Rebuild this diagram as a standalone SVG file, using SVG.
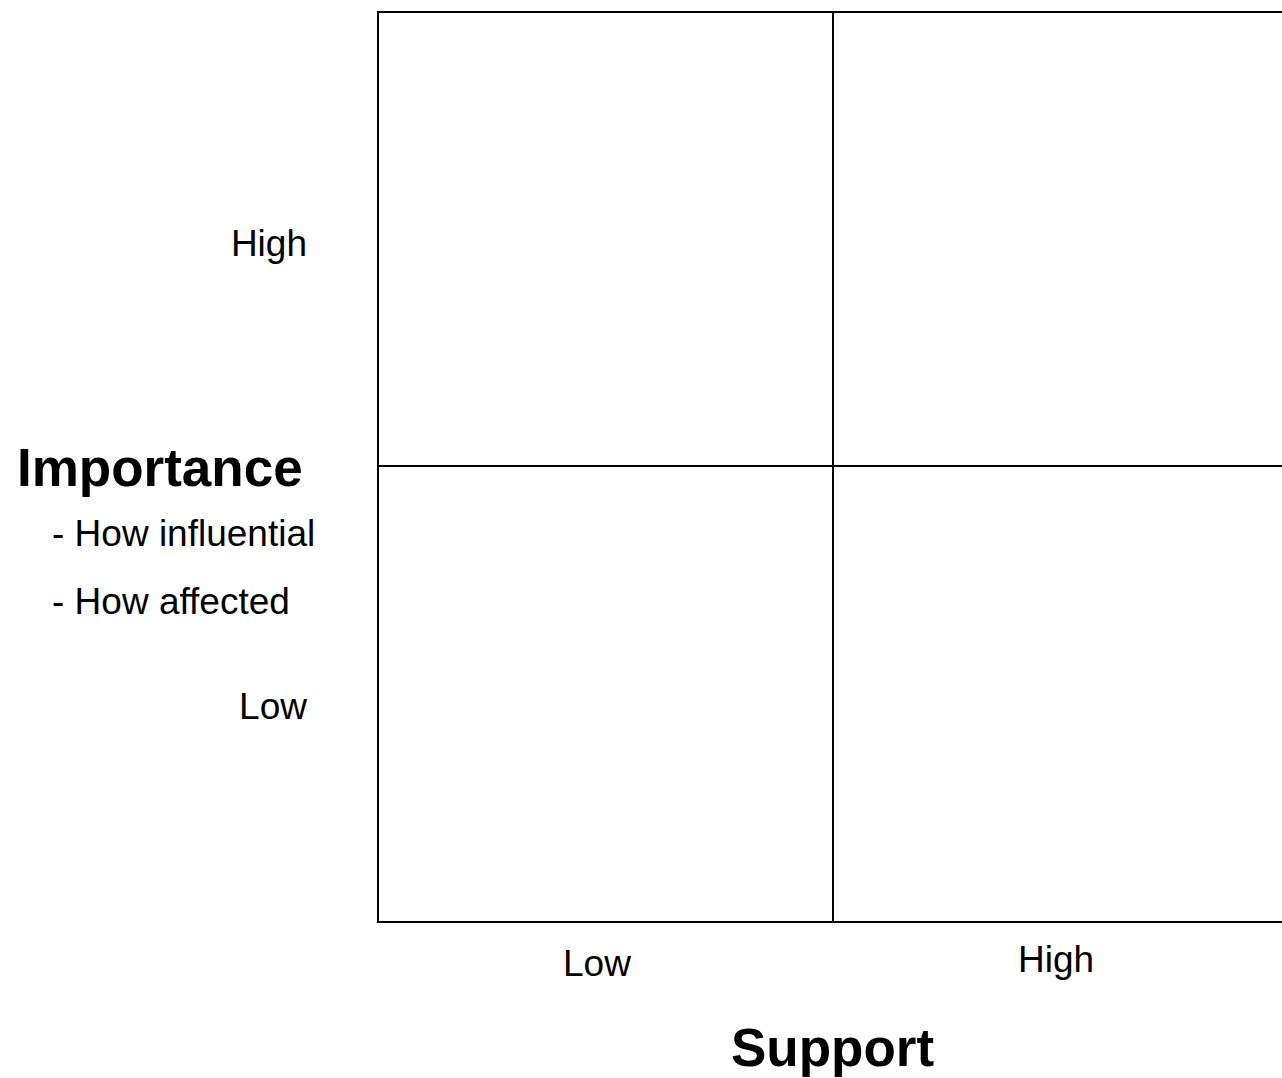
<svg xmlns="http://www.w3.org/2000/svg" width="1282" height="1078" viewBox="0 0 1282 1078">
<style>
.lbl{font-family:"Liberation Sans",Arial,sans-serif;font-size:37px;fill:#000}
.ttl{font-family:"Liberation Sans",Arial,sans-serif;font-size:53px;font-weight:bold;fill:#000}
.ln{stroke:#000;stroke-width:2;fill:none}
</style>
<rect x="0" y="0" width="1282" height="1078" fill="#fff"/>
<g id="grid">
<rect class="ln" x="378" y="12" width="920" height="910"/>
<line class="ln" x1="833" y1="12" x2="833" y2="922"/>
<line class="ln" x1="378" y1="466" x2="1298" y2="466"/>
</g>
<g id="y-axis">
<text class="lbl" x="307" y="256" text-anchor="end">High</text>
<text class="lbl" x="307" y="719" text-anchor="end">Low</text>
<text class="ttl" x="17" y="486">Importance</text>
<text class="lbl" x="52" y="546">- How influential</text>
<text class="lbl" x="52" y="614">- How affected</text>
</g>
<g id="x-axis">
<text class="lbl" x="563" y="976">Low</text>
<text class="lbl" x="1018" y="972">High</text>
<text class="ttl" x="731" y="1066">Support</text>
</g>
</svg>
